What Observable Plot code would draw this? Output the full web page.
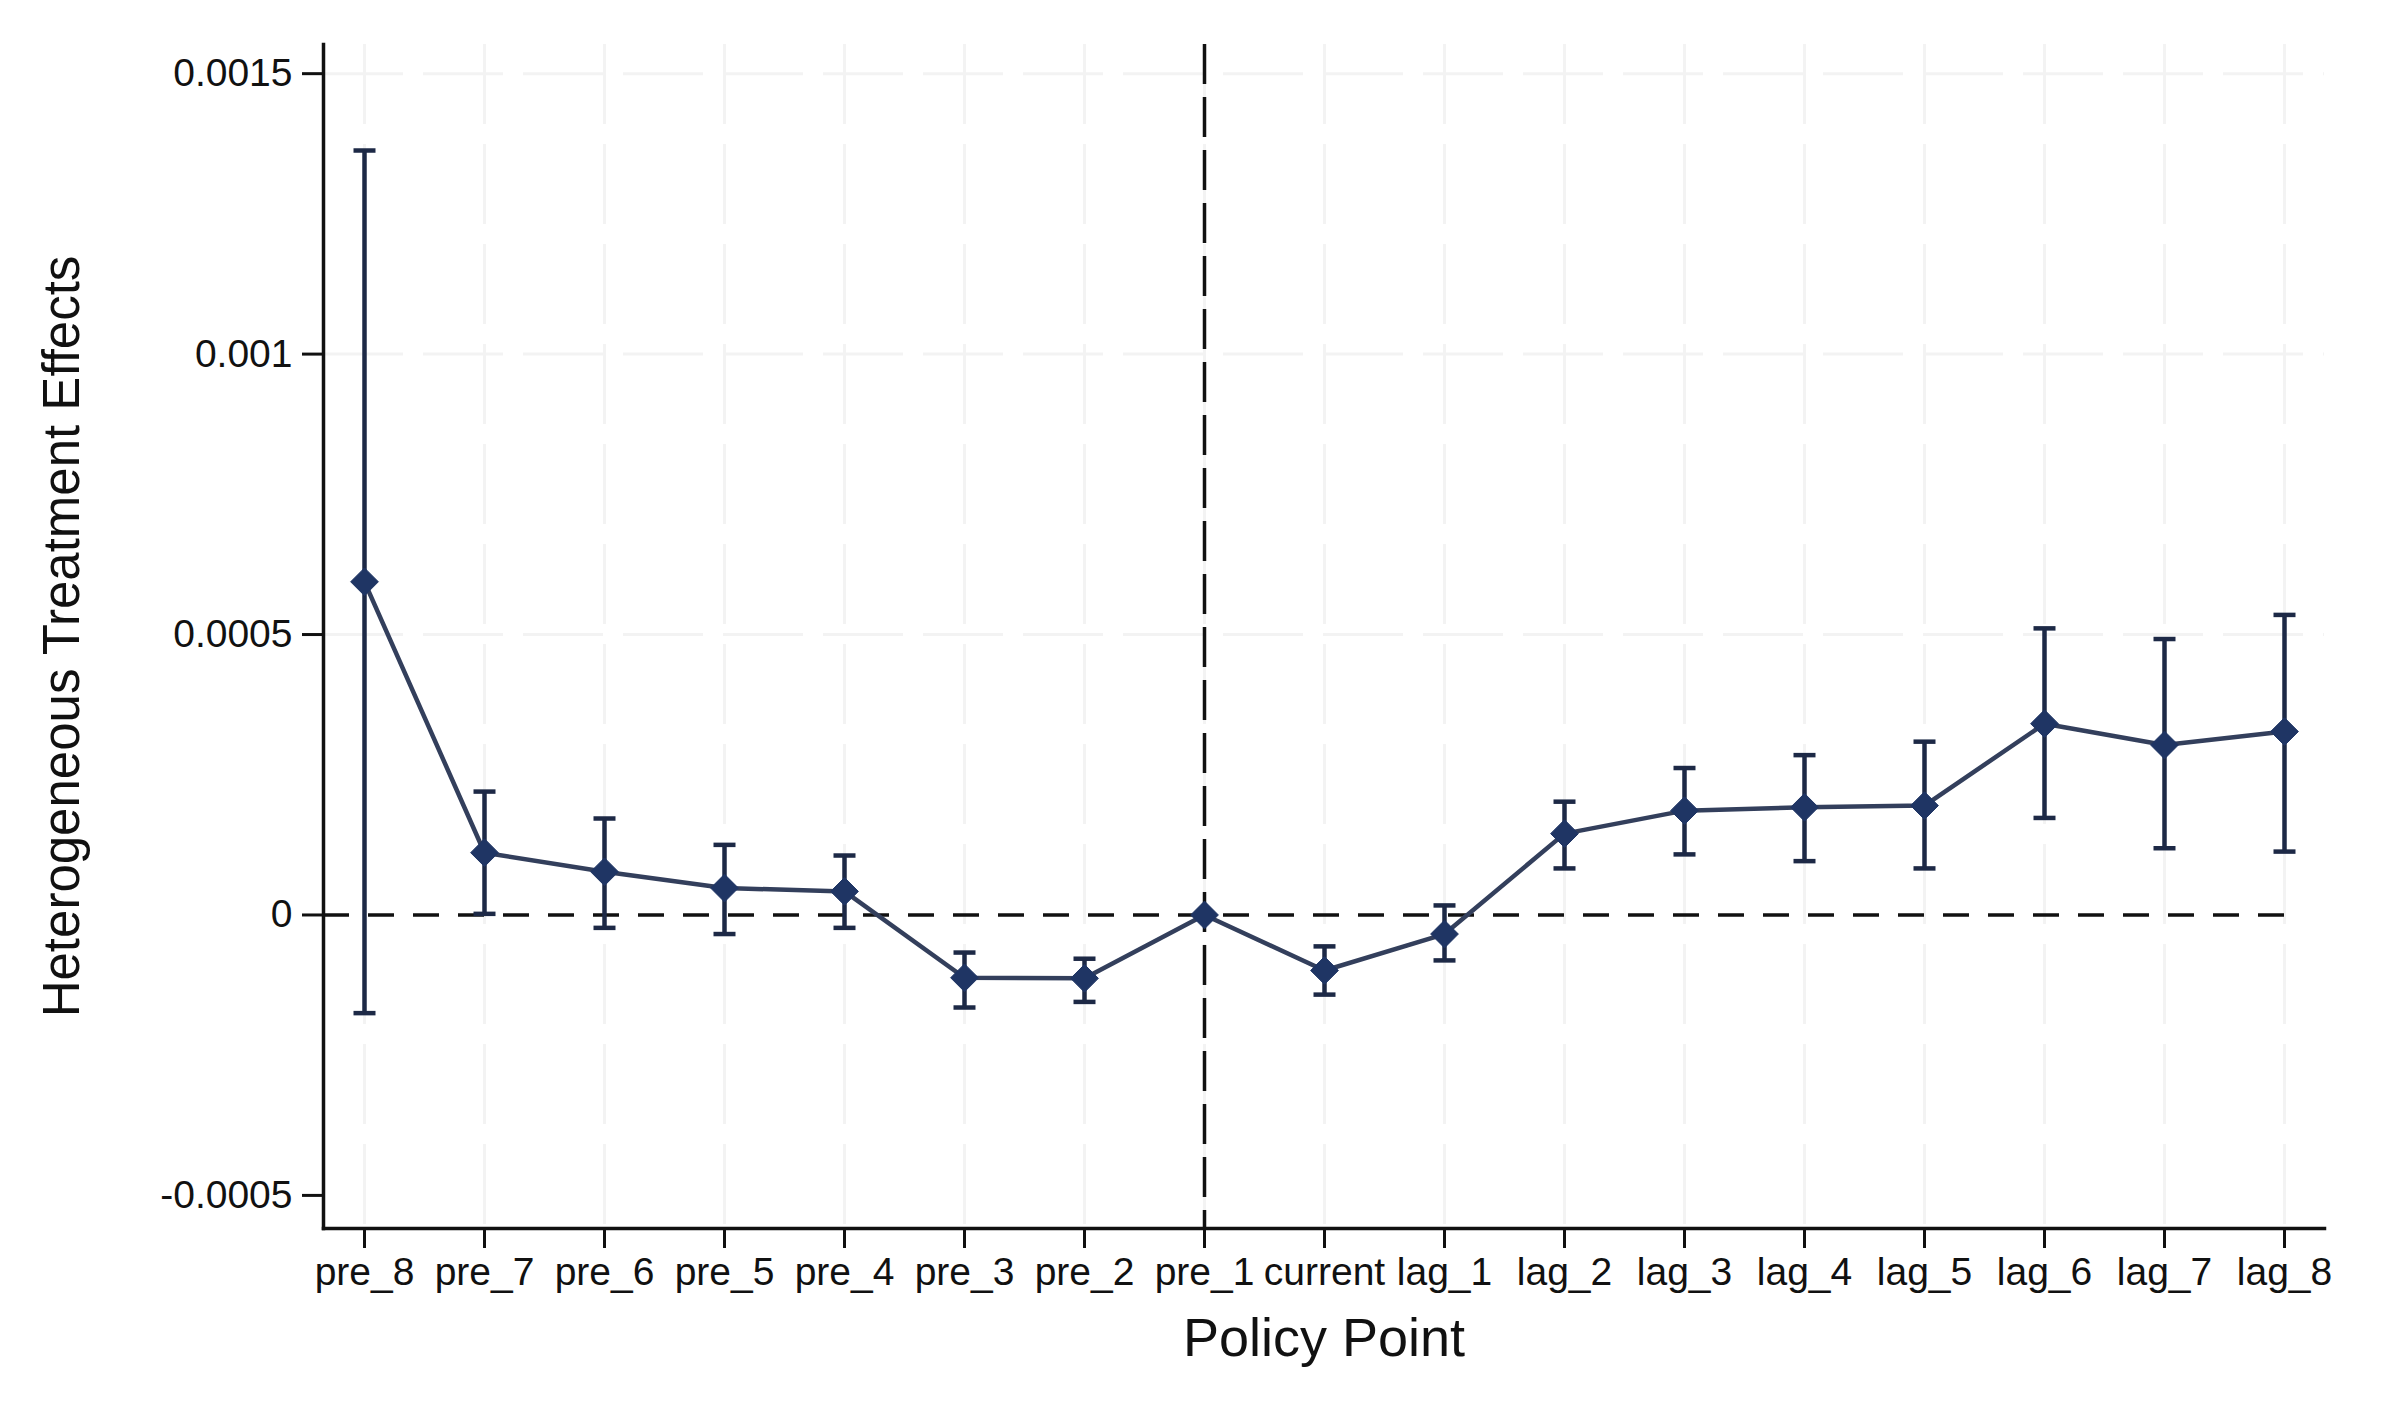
<!DOCTYPE html>
<html>
<head>
<meta charset="utf-8">
<script src="https://cdn.jsdelivr.net/npm/d3@7"></script>
<script src="https://cdn.jsdelivr.net/npm/@observablehq/plot@0.6"></script>
<style>
  html, body { margin: 0; padding: 0; background: #fff; }
  #chart svg { display: block; }
</style>
</head>
<body>
<div id="chart"></div>
<script>
// ---- data ----
const categories = ["pre_8","pre_7","pre_6","pre_5","pre_4","pre_3","pre_2","pre_1","current","lag_1","lag_2","lag_3","lag_4","lag_5","lag_6","lag_7","lag_8"];
const estimates  = [0.000594, 0.000111, 0.000077, 0.000048, 0.000042, -0.000112, -0.000113, 0, -0.000099, -0.000034, 0.000145, 0.000186, 0.000192, 0.000195, 0.000341, 0.000303, 0.000327];
const ciLower    = [-0.000175, 0.000002, -0.000023, -0.000034, -0.000023, -0.000165, -0.000155, 0, -0.000142, -0.000081, 0.000083, 0.000108, 0.000096, 0.000083, 0.000173, 0.000119, 0.000113];
const ciUpper    = [0.001363, 0.000220, 0.000172, 0.000125, 0.000106, -0.000067, -0.000078, 0, -0.000056, 0.000017, 0.000202, 0.000262, 0.000285, 0.000309, 0.000511, 0.000492, 0.000535];
const yTicks      = [-0.0005, 0, 0.0005, 0.001, 0.0015];
const yTickLabels = ["-0.0005", "0", "0.0005", "0.001", "0.0015"];
const yDomain     = [-0.000559, 0.001552];
const policyPoint = "pre_1";
const xTitle = "Policy Point";
const yTitle = "Heterogeneous Treatment Effects";

// ---- table built from the arrays ----
const rows = categories.map((c, i) => ({cat: c, est: estimates[i], lo: ciLower[i], hi: ciUpper[i]}));
const ciRows = rows.filter(d => d.hi !== d.lo);
const zeroLine = [{y: 0, x2: categories[categories.length - 1]}];
const gridYValues = yTicks.filter(v => v > 0);

// horizontal cap symbol for the error bars (half-width = r)
const capSymbol = {
  draw(context, size) {
    const h = Math.sqrt(size / Math.PI);
    context.moveTo(-h, 0);
    context.lineTo(h, 0);
  }
};

const navyMarker = "#1f3564";
const navyLine = "#333f5c";
const navyCI = "#1d2946";
const font = "'Liberation Sans', Arial, sans-serif";

const chart = Plot.plot({
  width: 2397,
  height: 1404,
  marginLeft: 323,
  marginRight: 73,
  marginTop: 44,
  marginBottom: 176,
  style: {fontFamily: font, fontSize: "39px", color: "#111", background: "#fff"},
  x: {type: "point", domain: categories, padding: 0.27, label: null},
  y: {domain: yDomain, label: null},
  marks: [
    // faint dashed grid
    Plot.ruleX(categories, {stroke: "#f3f3f3", strokeWidth: 3, strokeDasharray: "80,20"}),
    Plot.ruleY(gridYValues, {stroke: "#f3f3f3", strokeWidth: 3, strokeDasharray: "80,20"}),
    // reference lines
    Plot.ruleY(zeroLine, {y: "y", x1: null, x2: "x2", stroke: "#111", strokeWidth: 3.5, strokeDasharray: "26,19"}),
    Plot.ruleX([policyPoint], {stroke: "#111", strokeWidth: 3.5, strokeDasharray: "40,13"}),
    // axis lines
    Plot.frame({anchor: "left", stroke: "#111", strokeWidth: 3.5}),
    Plot.frame({anchor: "bottom", stroke: "#111", strokeWidth: 3.5}),
    // axes
    Plot.axisY({ticks: yTicks, tickFormat: (d) => yTickLabels[yTicks.indexOf(d)], tickSize: 21, tickPadding: 10, strokeWidth: 3, stroke: "#111", fontSize: 39, label: null}),
    Plot.axisX({tickSize: 20, tickPadding: 9, strokeWidth: 3, stroke: "#111", fontSize: 39, label: null}),
    // titles
    Plot.text([xTitle], {frameAnchor: "bottom", dy: 127, lineAnchor: "bottom", textAnchor: "middle", fontSize: 54, fill: "#111"}),
    Plot.text([yTitle], {frameAnchor: "left", dx: -245, rotate: -90, lineAnchor: "bottom", textAnchor: "middle", fontSize: 51, fill: "#111"}),
    // connecting line
    Plot.line(rows, {x: "cat", y: "est", stroke: navyLine, strokeWidth: 4.5}),
    // confidence intervals
    Plot.ruleX(ciRows, {x: "cat", y1: "lo", y2: "hi", stroke: navyCI, strokeWidth: 4.5}),
    Plot.dot(ciRows, {x: "cat", y: "lo", symbol: capSymbol, r: 11, stroke: navyCI, strokeWidth: 4.5, fill: "none"}),
    Plot.dot(ciRows, {x: "cat", y: "hi", symbol: capSymbol, r: 11, stroke: navyCI, strokeWidth: 4.5, fill: "none"}),
    // markers
    Plot.dot(rows, {x: "cat", y: "est", symbol: "diamond2", r: 12.5, fill: navyMarker, stroke: navyMarker, strokeWidth: 1})
  ]
});
document.getElementById("chart").appendChild(chart);
</script>
</body>
</html>
